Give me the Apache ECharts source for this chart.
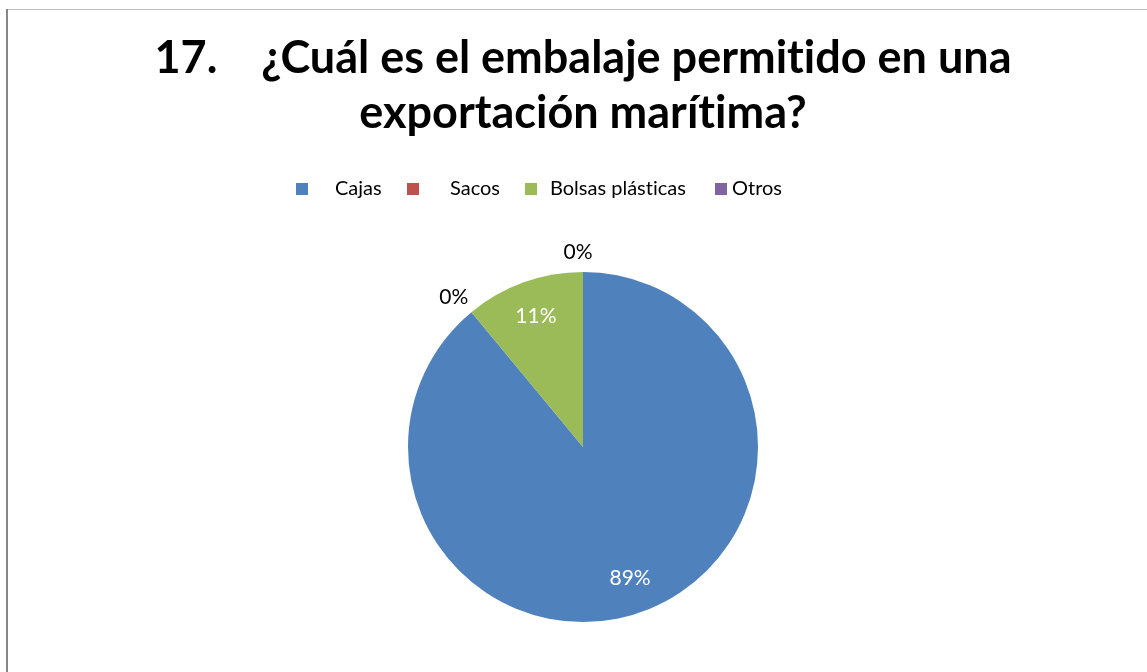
<!DOCTYPE html>
<html>
<head>
<meta charset="utf-8">
<style>
  html, body { margin: 0; padding: 0; background: #ffffff; }
  #chart { width: 1147px; height: 672px; }
</style>
<script src="https://cdn.jsdelivr.net/npm/echarts@6/dist/echarts.min.js"></script>
</head>
<body>
<div id="chart"></div>
<script>
// Packaging options and the share of answers for each
const categories = ['Cajas', 'Sacos', 'Bolsas plásticas', 'Otros'];
const values = [89, 0, 11, 0];
const colors = ['#4F81BD', '#C0504D', '#9BBB59', '#8064A2'];
const titleLines = ['17.    ¿Cuál es el embalaje permitido en una', 'exportación marítima?'];

const FONT = 'Lato, "Open Sans", sans-serif';
const CX = 583, CY = 447, R = 175;

// Keep "t" and "i" as separate glyphs (no fi/ti ligature)
const noLig = s => s.replace(/ti/g, 't\u200Ci');

// Filled pie, no labels
const pieData = categories.map((name, i) => ({
  name,
  value: values[i],
  itemStyle: { color: colors[i] }
}));

// Transparent ring carrying the percentage labels: inside labels sit
// at mid-ring, zero slices get their label just outside the edge
const labelData = categories.map((name, i) => ({
  name,
  value: values[i],
  itemStyle: { color: 'rgba(0,0,0,0)' },
  label: values[i] > 0
    ? { position: 'inside', color: '#ffffff' }
    : { position: 'outside', color: '#000000' }
}));

// One legend block per entry so each keeps its own spacing
const legendLeft = [296, 407, 525, 715];
const legendTextPad = [22, 26, 8, 0];
const legends = categories.map((name, i) => ({
  data: [{ name, itemStyle: { color: colors[i] } }],
  formatter: noLig,
  left: legendLeft[i],
  top: 179,
  padding: 0,
  icon: 'rect',
  itemWidth: 12,
  itemHeight: 12,
  selectedMode: false,
  textStyle: {
    fontFamily: FONT,
    fontSize: 20,
    color: '#000000',
    lineHeight: 20,
    padding: [0, 0, 0, legendTextPad[i]]
  }
}));

const chart = echarts.init(document.getElementById('chart'), null, { renderer: 'canvas' });
chart.setOption({
  backgroundColor: '#ffffff',
  animation: false,
  title: {
    text: titleLines.map(noLig).join('\n'),
    left: CX,
    top: 31,
    textAlign: 'center',
    padding: 0,
    textStyle: {
      fontFamily: FONT,
      fontWeight: 'bold',
      fontSize: 45,
      lineHeight: 55,
      color: '#000000'
    }
  },
  legend: legends,
  graphic: [
    { type: 'line', shape: { x1: 7, y1: 9.5, x2: 1147, y2: 9.5 }, style: { stroke: '#BFBFBF', lineWidth: 1 }, silent: true },
    { type: 'line', shape: { x1: 7, y1: 9, x2: 7, y2: 672 }, style: { stroke: '#878787', lineWidth: 2 }, silent: true }
  ],
  series: [
    {
      type: 'pie',
      center: [CX, CY],
      radius: [0, R],
      startAngle: 90,
      clockwise: true,
      silent: true,
      avoidLabelOverlap: false,
      label: { show: false },
      labelLine: { show: false },
      itemStyle: { borderWidth: 0 },
      emphasis: { disabled: true },
      data: pieData
    },
    {
      type: 'pie',
      center: [CX, CY],
      radius: [97, R],
      startAngle: 90,
      clockwise: true,
      silent: true,
      avoidLabelOverlap: false,
      percentPrecision: 0,
      label: {
        show: true,
        formatter: '{d}%',
        fontFamily: FONT,
        fontSize: 21
      },
      labelLine: { show: false, length: 20, length2: 0 },
      labelLayout: function (params) {
        return { align: 'center', verticalAlign: 'middle' };
      },
      itemStyle: { borderWidth: 0 },
      emphasis: { disabled: true },
      data: labelData
    }
  ]
});
</script>
</body>
</html>
